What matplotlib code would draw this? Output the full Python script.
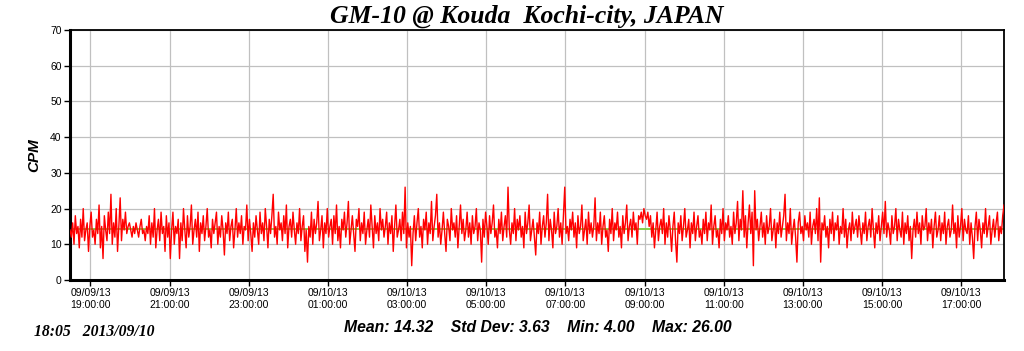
import numpy as np
import pandas as pd
import matplotlib
matplotlib.use("Agg")
import matplotlib.pyplot as plt
import matplotlib.dates as mdates

# === DATOS ===
start_time = "2013-09-09 18:29"
step_minutes = 2
cpm = [
    14, 12, 16, 10, 18, 13, 15, 9, 17, 12, 20, 11, 14, 16, 8, 15, 19, 12, 14, 10,
    17, 13, 21, 9, 15, 6, 18, 14, 11, 19, 13, 24, 10, 16, 12, 20, 8, 15, 23, 11,
    17, 14, 19, 13, 15, 16, 14, 12, 15, 13, 16, 14, 12, 15, 17, 13, 14, 11, 15, 13,
    18, 10, 16, 12, 20, 9, 14, 17, 11, 19, 13, 15, 8, 18, 12, 16, 6, 14, 19, 10,
    15, 13, 17, 6, 16, 11, 20, 14, 9, 18, 12, 15, 21, 10, 14, 17, 12, 19, 8, 16,
    13, 18, 11, 15, 20, 12, 14, 9, 17, 13, 16, 19, 10, 15, 12, 18, 14, 7, 16, 13,
    19, 11, 15, 17, 9, 14, 20, 12, 16, 13, 18, 10, 15, 14, 21, 11, 17, 13, 8, 16,
    12, 18, 14, 10, 19, 13, 16, 11, 20, 15, 9, 17, 13, 18, 24, 12, 15, 10, 19, 14,
    16, 11, 18, 13, 21, 9, 15, 17, 12, 19, 14, 10, 16, 13, 20, 11, 15, 18, 8, 14,
    5, 15, 12, 19, 10, 17, 13, 16, 22, 11, 14, 18, 9, 16, 13, 20, 12, 15, 17, 10,
    18, 13, 21, 11, 15, 9, 17, 14, 19, 12, 16, 22, 10, 14, 18, 13, 8, 17, 15, 20,
    11, 16, 13, 19, 10, 14, 17, 12, 21, 15, 9, 18, 13, 16, 11, 20, 14, 17, 12, 15,
    19, 10, 16, 13, 18, 8, 15, 21, 12, 14, 17, 11, 19, 13, 26, 9, 16, 12, 15, 4,
    13, 18, 11, 16, 20, 12, 15, 9, 17, 14, 19, 10, 16, 13, 22, 11, 15, 18, 24, 12,
    16, 10, 14, 19, 13, 8, 17, 15, 11, 20, 14, 16, 12, 18, 9, 15, 21, 13, 17, 11,
    14, 19, 12, 16, 10, 18, 13, 15, 20, 11, 16, 14, 5, 17, 12, 19, 15, 10, 18, 13,
    16, 21, 12, 14, 9, 17, 13, 19, 11, 15, 18, 12, 26, 14, 10, 16, 13, 20, 11, 17,
    14, 18, 12, 15, 9, 19, 13, 16, 21, 11, 14, 17, 12, 7, 16, 13, 19, 10, 15, 18,
    12, 16, 24, 11, 17, 14, 9, 19, 13, 15, 20, 12, 16, 10, 18, 26, 13, 15, 11, 17,
    14, 19, 12, 16, 9, 18, 13, 15, 21, 11, 14, 17, 10, 19, 13, 16, 12, 15, 23, 11,
    16, 13, 19, 10, 15, 18, 12, 14, 8, 17, 13, 20, 11, 16, 14, 19, 12, 15, 9, 18,
    13, 16, 21, 11, 15, 17, 12, 19, 14, 16, 10, 18, 17, 19, 16, 20, 18, 17, 19, 15,
    18, 12, 16, 9, 14, 19, 11, 15, 17, 13, 20, 10, 16, 12, 18, 14, 8, 15, 19, 11,
    5, 16, 13, 18, 11, 15, 20, 12, 14, 17, 9, 16, 13, 19, 11, 15, 18, 12, 14, 10,
    17, 13, 19, 11, 16, 14, 21, 10, 15, 18, 12, 14, 9, 17, 13, 20, 11, 16, 14, 18,
    12, 15, 10, 19, 13, 16, 22, 11, 17, 14, 25, 12, 18, 9, 16, 21, 13, 19, 4, 25,
    14, 17, 11, 15, 19, 12, 16, 10, 18, 13, 15, 20, 11, 14, 17, 9, 16, 13, 19, 12,
    15, 18, 24, 11, 16, 13, 20, 10, 14, 17, 12, 5, 16, 19, 13, 15, 11, 18, 14, 16,
    12, 19, 10, 15, 17, 13, 20, 11, 23, 5, 16, 14, 18, 12, 15, 9, 17, 13, 19, 11,
    16, 14, 18, 10, 15, 13, 20, 12, 17, 9, 14, 16, 11, 19, 13, 15, 17, 12, 18, 14,
    10, 16, 13, 19, 11, 15, 17, 12, 20, 14, 9, 16, 13, 18, 11, 15, 19, 13, 22, 12,
    16, 14, 10, 18, 13, 15, 20, 11, 17, 14, 12, 19, 10, 16, 13, 18, 11, 15, 6, 14,
    17, 12, 19, 13, 16, 10, 18, 14, 15, 20, 11, 16, 13, 17, 9, 15, 19, 12, 14, 18,
    11, 16, 13, 19, 10, 15, 17, 12, 14, 21, 13, 16, 9, 18, 12, 15, 20, 11, 17, 14,
    13, 18, 10, 16, 12, 6, 15, 19, 11, 17, 14, 9, 16, 13, 20, 12, 15, 18, 10, 14,
    17, 12, 16, 19, 11, 15, 13, 18, 21,
]
mean_cpm = 14.32
titulo = "GM-10 @ Kouda  Kochi-city, JAPAN"
estadisticas = "Mean: 14.32    Std Dev: 3.63    Min: 4.00    Max: 26.00"
sello = "18:05   2013/09/10"

times = pd.date_range(start_time, periods=len(cpm), freq=f"{step_minutes}min")

# === GRAFICAR ===
fig = plt.figure(figsize=(10.24, 3.51), dpi=100, facecolor="white")
ax = fig.add_axes([0.0684, 0.2023, 0.9121, 0.7122])

ax.axhline(mean_cpm, color="#7ccc3c", linewidth=1.3, zorder=2)
ax.plot(times, cpm, color="#ff0000", linewidth=1.0, zorder=3)

ax.set_xlim(times[0], times[-1])
ax.set_ylim(0, 70)
ax.set_yticks(range(0, 71, 10))
ax.xaxis.set_major_locator(mdates.HourLocator(byhour=range(1, 24, 2)))
ax.xaxis.set_major_formatter(mdates.DateFormatter("%m/%d/%y\n%H:%M:%S"))

ax.grid(True, color="#c0c0c0", linewidth=0.9, zorder=1)
ax.set_axisbelow(True)
for lbl in ax.get_xticklabels() + ax.get_yticklabels():
    lbl.set_fontfamily("Liberation Sans")
    lbl.set_fontsize(7.5)
ax.tick_params(axis="both", length=4, width=1, pad=2)

for side in ["left", "bottom"]:
    ax.spines[side].set_linewidth(2.2)
for side in ["top", "right"]:
    ax.spines[side].set_linewidth(1.3)

ax.set_ylabel("CPM", fontsize=11, fontweight="bold", fontstyle="italic",
              family="Liberation Sans", labelpad=6)

fig.text(0.514, 0.953, titulo, ha="center", va="center", fontsize=18.5,
         fontweight="bold", fontstyle="italic", family="Liberation Serif")
fig.text(0.525, 0.068, estadisticas, ha="center", va="center", fontsize=11.3,
         fontweight="bold", fontstyle="italic", family="Liberation Sans")
fig.text(0.033, 0.055, sello, ha="left", va="center", fontsize=11.3,
         fontweight="bold", fontstyle="italic", family="Liberation Serif")

fig.savefig("out.png", dpi=100, facecolor="white")
